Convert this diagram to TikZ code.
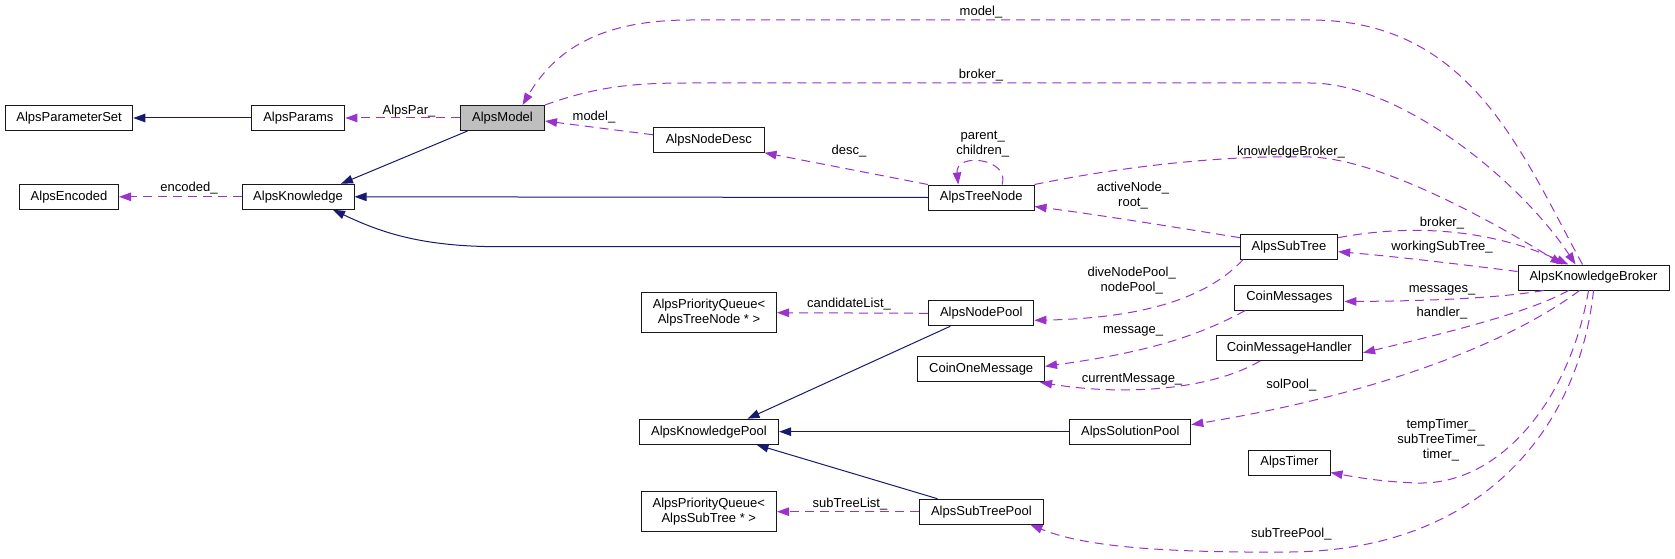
\documentclass[tikz,border=0pt]{standalone}
\usepackage{fontspec}
\setmainfont{Liberation Sans}
\usetikzlibrary{arrows.meta}
\definecolor{depc}{HTML}{9A32CD}
\definecolor{inhc}{HTML}{191970}
\definecolor{grayfill}{HTML}{BFBFBF}
\begin{document}
\begin{tikzpicture}[x=1pt,y=-1pt,
 cls/.style={draw=black!90, line width=1pt, fill=white, minimum height=25pt, inner sep=0pt, font=\fontsize{13}{15}\selectfont, align=center},
 lbl/.style={inner sep=0pt, font=\fontsize{13}{15}\selectfont, align=center},
 inhline/.style={draw=inhc, line width=1pt, -{Triangle[length=12pt,width=8.5pt]}},
 depline/.style={draw=depc, line width=1pt, dash pattern=on 9pt off 6pt, -{Triangle[length=12pt,width=8.5pt]}}
]
\fill[white] (0,0) rectangle (1675,559);
\useasboundingbox (0,0) rectangle (1675,559);

% classes
\node[cls, minimum width=127.4pt] (ps) at (69.1,118) {AlpsParameterSet};
\node[cls, minimum width=93.2pt] (params) at (298.3,118) {AlpsParams};
\node[cls, minimum width=84pt, fill=grayfill] (model) at (502.5,118) {AlpsModel};
\node[cls, minimum width=99pt] (enc) at (69,196.8) {AlpsEncoded};
\node[cls, minimum width=112pt] (know) at (298,196.8) {AlpsKnowledge};
\node[cls, minimum width=110.4pt] (ndesc) at (708.8,139.8) {AlpsNodeDesc};
\node[cls, minimum width=105.6pt] (tnode) at (981.2,197.5) {AlpsTreeNode};
\node[cls, minimum width=97.3pt] (subtree) at (1289,246.7) {AlpsSubTree};
\node[cls, minimum width=151pt] (broker) at (1593.5,277.5) {AlpsKnowledgeBroker};
\node[cls, minimum width=109.3pt] (cmsg) at (1289.3,297.5) {CoinMessages};
\node[cls, minimum width=146.6pt] (cmh) at (1289.3,347.8) {CoinMessageHandler};
\node[cls, minimum width=135pt, minimum height=40pt] (pqa) at (709,312.7) {AlpsPriorityQueue<\\AlpsTreeNode * >};
\node[cls, minimum width=105.3pt] (npool) at (981.2,313.3) {AlpsNodePool};
\node[cls, minimum width=126.7pt] (com) at (981.2,369.3) {CoinOneMessage};
\node[cls, minimum width=139.2pt] (kpool) at (709,431.7) {AlpsKnowledgePool};
\node[cls, minimum width=121pt] (solpool) at (1130.3,431.7) {AlpsSolutionPool};
\node[cls, minimum width=81.2pt] (timer) at (1289.4,462.5) {AlpsTimer};
\node[cls, minimum width=135.5pt, minimum height=40pt] (pqb) at (708.8,511.7) {AlpsPriorityQueue<\\AlpsSubTree * >};
\node[cls, minimum width=123.2pt] (stpool) at (981.4,511.7) {AlpsSubTreePool};

% inheritance (solid navy)
\draw[inhline] (params.west) -- (ps.east);
\draw[inhline] ([xshift=-35pt]model.south) -- ([xshift=43pt]know.north);
\draw[inhline] (tnode.west) -- (know.east);
\draw[inhline] (subtree.west) -- (500,246.7) .. controls (420,246.7) and (380,232) .. ([xshift=35pt]know.south);
\draw[inhline] ([xshift=-31pt]npool.south) -- ([xshift=38.5pt]kpool.north);
\draw[inhline] (solpool.west) -- (kpool.east);
\draw[inhline] ([xshift=-44pt]stpool.north) -- ([xshift=47.5pt]kpool.south);

% usage (dashed purple)
\draw[depline] (model.west) -- (params.east);
\draw[depline] (know.west) -- (enc.east);
\draw[depline] ([yshift=5pt]ndesc.west) -- ([yshift=-3pt]model.east);
\draw[depline] (tnode.north west) -- (ndesc.south east);
\draw[depline] ([xshift=21pt]tnode.north) .. controls (1010,158) and (955,152) .. ([xshift=-23pt]tnode.north);
\draw[depline] (tnode.north east) .. controls (1130,165) and (1230,155) .. (1310,157) .. controls (1380,159) and (1490,220) .. ([xshift=-31pt]broker.north);
\draw[depline] ([yshift=9pt]subtree.west) .. controls (1180,228) and (1100,215) .. ([yshift=-9pt]tnode.east);
\draw[depline] ([yshift=9pt]subtree.east) .. controls (1400,226) and (1480,225) .. ([xshift=-25pt]broker.north);
\draw[depline] ([yshift=6pt]broker.west) .. controls (1450,263) and (1390,256) .. ([yshift=-5pt]subtree.east);
\draw[depline] ([xshift=-11pt]broker.north) .. controls (1520,150) and (1470,20) .. (1310,20) -- (690,20) .. controls (600,20) and (555,50) .. ([xshift=20pt]model.north);
\draw[depline] (model.north east) .. controls (600,85) and (640,83) .. (690,83) -- (1310,83) .. controls (1400,83) and (1520,180) .. ([xshift=-18pt]broker.north);
\draw[depline] ([xshift=-50pt]broker.south) .. controls (1500,298) and (1430,301) .. ([yshift=-4pt]cmsg.east);
\draw[depline] ([xshift=-25pt]broker.south) .. controls (1530,312) and (1450,332) .. ([yshift=-5pt]cmh.east);
\draw[depline] ([xshift=-14pt]broker.south) .. controls (1520,335) and (1400,390) .. ([yshift=7pt]solpool.east);
\draw[depline] ([xshift=-5pt]broker.south) .. controls (1570,400) and (1500,485) .. (1418,483) .. controls (1385,482) and (1360,478) .. ([yshift=3pt]timer.south east);
\draw[depline] (broker.south) .. controls (1580,420) and (1490,550) .. (1290,552) .. controls (1150,553) and (1080,545) .. ([xshift=49pt]stpool.south);
\draw[depline] ([xshift=-46pt]subtree.south) .. controls (1210,295) and (1150,318) .. ([yshift=-7pt]npool.east);
\draw[depline] ([xshift=-44pt]cmsg.south) .. controls (1200,335) and (1150,352) .. ([yshift=3pt]com.east);
\draw[depline] ([xshift=-29pt]cmh.south) .. controls (1215,388) and (1130,397) .. ([xshift=-5pt]com.south east);
\draw[depline] (npool.west) -- (pqa.east);
\draw[depline] (stpool.west) -- (pqb.east);

% labels
\node[lbl] (lpar) at (409,111) {AlpsPar\_};
\node[lbl] (lenc) at (189,188) {encoded\_};
\node[lbl] (lmod) at (594,116.7) {model\_};
\node[lbl] (ldesc) at (849,151) {desc\_};
\node[lbl] (lpc) at (982.7,144.2) {parent\_\\children\_};
\node[lbl] (lkb) at (1291,151.7) {knowledgeBroker\_};
\node[lbl] (lan) at (1133,195.5) {activeNode\_\\root\_};
\node[lbl] (lbr) at (1442,223.3) {broker\_};
\node[lbl] (lwst) at (1442,246.7) {workingSubTree\_};
\node[lbl] (ldnp) at (1131.7,280.2) {diveNodePool\_\\nodePool\_};
\node[lbl] (lmsgs) at (1442,290.7) {messages\_};
\node[lbl] (lhand) at (1442,313.3) {handler\_};
\node[lbl] (lmsg) at (1133,331) {message\_};
\node[lbl] (lcur) at (1132,379.3) {currentMessage\_};
\node[lbl] (lcand) at (849,304.3) {candidateList\_};
\node[lbl] (lsol) at (1291.3,385) {solPool\_};
\node[lbl] (ltim) at (1441,440) {tempTimer\_\\subTreeTimer\_\\timer\_};
\node[lbl] (lstl) at (850,504) {subTreeList\_};
\node[lbl] (lstp) at (1291.3,534.3) {subTreePool\_};
\node[lbl] (ltopm) at (981,11.7) {model\_};
\node[lbl] (ltopb) at (981,75) {broker\_};
\end{tikzpicture}
\end{document}
